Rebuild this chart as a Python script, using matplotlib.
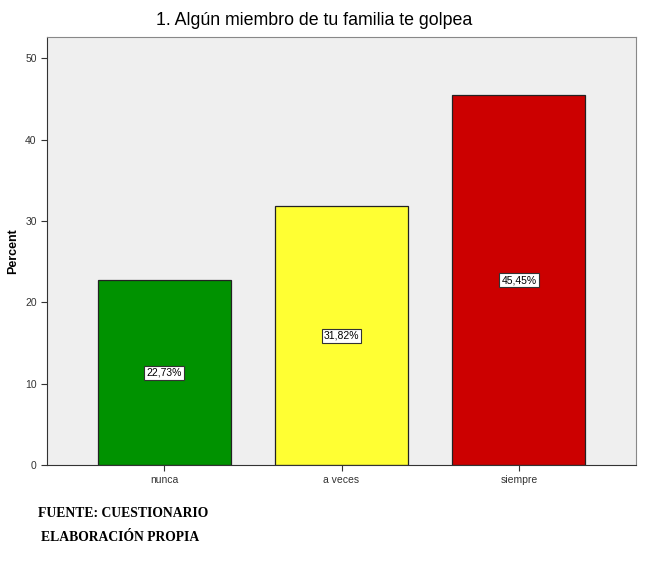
import matplotlib.pyplot as plt

categorias = ['nunca', 'a veces', 'siempre']
porcentajes = [22.73, 31.82, 45.45]
etiquetas = ['22,73%', '31,82%', '45,45%']
colores = ['#009200', '#ffff33', '#cc0000']

fig = plt.figure(figsize=(6.45, 5.63), dpi=100)
ax = fig.add_axes([0.073, 0.174, 0.913, 0.76])
ax.set_facecolor('#efefef')

x = range(len(categorias))
ax.bar(x, porcentajes, width=0.75, color=colores, edgecolor='#222222', linewidth=0.9)

# etiquetas con caja en el centro de cada barra
for i in x:
    ax.text(i, porcentajes[i] / 2, etiquetas[i], ha='center', va='center',
            fontsize=7.5, family='Liberation Sans',
            bbox=dict(boxstyle='square,pad=0.2', fc='white', ec='#333333', lw=0.8))

ax.set_xlim(-0.66, 2.66)
ax.set_ylim(0, 52.6)
ax.set_yticks([0, 10, 20, 30, 40, 50])
ax.set_xticks(list(x))
ax.set_xticklabels(categorias)
ax.tick_params(labelsize=7.5, length=4, color='#333333', labelcolor='#333333')
for lab in ax.get_xticklabels() + ax.get_yticklabels():
    lab.set_family('Liberation Sans')
for s in ax.spines.values():
    s.set_color('#888888')
ax.spines['left'].set_color('#333333')
ax.spines['bottom'].set_color('#333333')

ax.set_ylabel('Percent', fontsize=9, fontweight='bold', family='Liberation Sans')
fig.text(0.487, 0.963, '1. Algún miembro de tu familia te golpea', fontsize=12.8,
         family='Liberation Sans', ha='center', va='center')

fig.text(0.059, 0.088, 'FUENTE: CUESTIONARIO', fontsize=9.8, fontweight='bold',
         family='Liberation Serif', va='center')
fig.text(0.064, 0.046, 'ELABORACIÓN PROPIA', fontsize=9.8, fontweight='bold',
         family='Liberation Serif', va='center')

fig.savefig('out.png', dpi=100)
